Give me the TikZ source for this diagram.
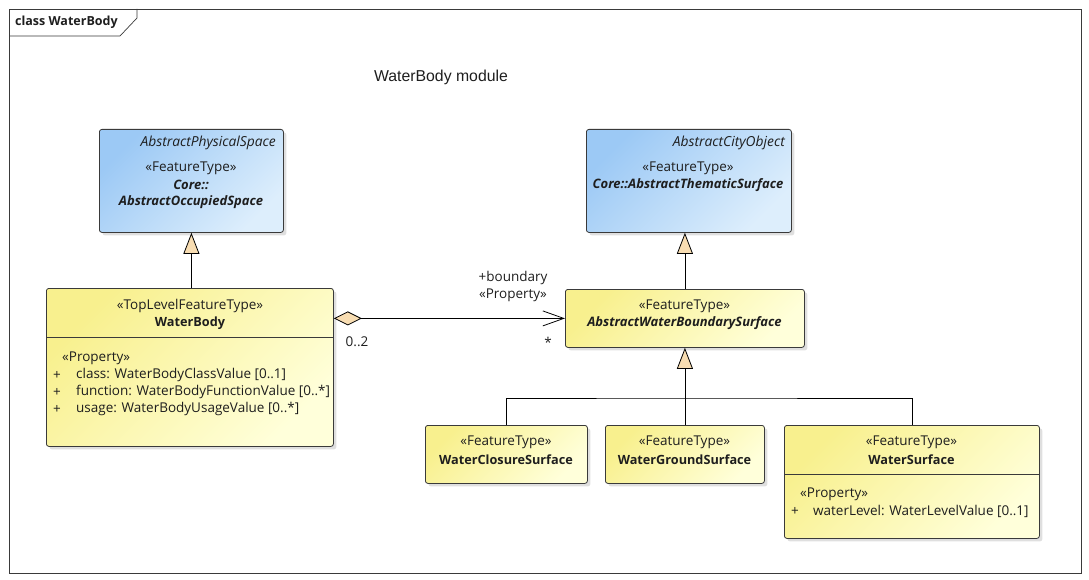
\documentclass[tikz,border=0pt]{standalone}
\usepackage{fontspec}
\setmainfont{Open Sans}
\newfontfamily\titlefont{Liberation Sans}
\usetikzlibrary{arrows.meta,shadows}
\definecolor{bluetl}{HTML}{9CC9F5}
\definecolor{bluebr}{HTML}{DDEEFC}
\definecolor{yeltl}{HTML}{F8F08E}
\definecolor{yelbr}{HTML}{FFFFDA}
\definecolor{genfill}{HTML}{F8DDB2}
\definecolor{boxline}{HTML}{3A3A3A}
\definecolor{txt}{HTML}{1E1E1E}
\newcommand{\regf}{\fontsize{13.5}{15}\selectfont}
\newcommand{\boldf}{\fontsize{12.7}{15}\selectfont\bfseries}
\newcommand{\bitf}{\fontsize{13}{15}\selectfont\bfseries\itshape}
\newcommand{\itf}{\fontsize{13.8}{15}\selectfont\itshape}
\tikzset{
  umlbox/.style={draw=boxline, line width=0.8pt, rounded corners=2.5pt, anchor=north west,
    inner sep=0pt, drop shadow={shadow xshift=3pt, shadow yshift=-3pt, opacity=0.25, fill=gray}},
  bluebox/.style={umlbox, top color=bluetl, bottom color=bluebr, shading angle=45},
  yelbox/.style={umlbox, top color=yeltl, bottom color=yelbr, shading angle=45},
  lbl/.style={inner sep=0pt, text=txt, font=\regf},
  lblw/.style={lbl, anchor=west},
  lble/.style={lbl, anchor=east},
  gen/.style={draw=black, line width=0.8pt, -{Triangle[width=16pt,length=21pt,fill=genfill]}},
  conn/.style={draw=black, line width=0.8pt},
}
\begin{document}
\begin{tikzpicture}[x=1pt,y=-1pt]
\useasboundingbox (0,0) rectangle (1089,580);
% frame
\draw[draw=boxline, line width=0.7pt] (9,9) rectangle (1081,573);
\draw[draw=boxline, line width=0.7pt] (9,36) -- (120,36) -- (137,18) -- (137,9);
\node[lblw, font=\fontsize{12.5}{14}\selectfont\bfseries] (frametitle) at (15,22) {class WaterBody};
\node[lbl, font=\titlefont\fontsize{15.8}{18}\selectfont] (title) at (441,77) {WaterBody module};

% AbstractOccupiedSpace
\node[bluebox, minimum width=184pt, minimum height=103pt] (aos) at (99,129) {};
\node[lble, font=\itf] (aosp) at (276,143) {AbstractPhysicalSpace};
\node[lbl] (aoss) at (191,168) {«FeatureType»};
\node[lbl, font=\bitf] (aosn1) at (191,185) {Core::};
\node[lbl, font=\bitf] (aosn2) at (191,202) {AbstractOccupiedSpace};

% AbstractThematicSurface
\node[bluebox, minimum width=205pt, minimum height=103pt] (ats) at (586,129) {};
\node[lble, font=\itf] (atsp) at (785,143) {AbstractCityObject};
\node[lbl] (atss) at (688,168) {«FeatureType»};
\node[lbl, font=\bitf] (atsn) at (688,185) {Core::AbstractThematicSurface};

% WaterBody
\node[yelbox, minimum width=287pt, minimum height=158pt] (wb) at (46,288) {};
\draw[conn, draw=boxline] (46,337) -- (333,337);
\node[lbl] (wbs) at (190,306) {«TopLevelFeatureType»};
\node[lbl, font=\boldf] (wbn) at (190,323) {WaterBody};
\node[lblw] (wbp) at (62,358) {«Property»};
\node[lblw] (wbplus1) at (53,375) {+};
\node[lblw] (wba1) at (76,375) {class: WaterBodyClassValue [0..1]};
\node[lblw] (wbplus2) at (53,392) {+};
\node[lblw] (wba2) at (76,392) {function: WaterBodyFunctionValue [0..*]};
\node[lblw] (wbplus3) at (53,409) {+};
\node[lblw] (wba3) at (76,409) {usage: WaterBodyUsageValue [0..*]};

% AbstractWaterBoundarySurface
\node[yelbox, minimum width=239pt, minimum height=58pt] (awbs) at (565,289) {};
\node[lbl] (awbss) at (684.5,306) {«FeatureType»};
\node[lbl, font=\bitf] (awbsn) at (684.5,323) {AbstractWaterBoundarySurface};

% WaterClosureSurface
\node[yelbox, minimum width=162pt, minimum height=58pt] (wcs) at (425,425) {};
\node[lbl] (wcss) at (506,442) {«FeatureType»};
\node[lbl, font=\boldf] (wcsn) at (506,460) {WaterClosureSurface};

% WaterGroundSurface
\node[yelbox, minimum width=159pt, minimum height=58pt] (wgs) at (605,425) {};
\node[lbl] (wgss) at (684.5,442) {«FeatureType»};
\node[lbl, font=\boldf] (wgsn) at (684.5,460) {WaterGroundSurface};

% WaterSurface
\node[yelbox, minimum width=255pt, minimum height=113pt] (ws) at (784,425) {};
\draw[conn, draw=boxline] (784,474) -- (1039,474);
\node[lbl] (wss) at (911.5,442) {«FeatureType»};
\node[lbl, font=\boldf] (wsn) at (911.5,460) {WaterSurface};
\node[lblw] (wsp) at (800,494) {«Property»};
\node[lblw] (wsplus) at (791,511) {+};
\node[lblw] (wsa) at (813,511) {waterLevel: WaterLevelValue [0..1]};

% generalizations
\draw[gen] (wb.north -| aos.south) -- (aos.south);
\draw[gen] (awbs.north) -- (ats.south -| awbs.north);
\coordinate (junc) at (684.5,398);
\draw[conn] (wcs.north) |- (junc) -| (ws.north);
\draw[gen] (wgs.north) -- (awbs.south);

% aggregation
\draw[draw=black, line width=0.8pt, {Diamond[width=14pt,length=28pt,fill=genfill]}-{Straight Barb[length=21pt,width=15pt]}]
  (wb.east |- awbs.west) -- (awbs.west);
\node[lbl] (rolename) at (513,278) {+boundary};
\node[lbl] (rolest) at (513,295) {«Property»};
\node[lbl] (mult1) at (357,342) {0..2};
\node[lbl] (mult2) at (548,342) {*};
\end{tikzpicture}
\end{document}
